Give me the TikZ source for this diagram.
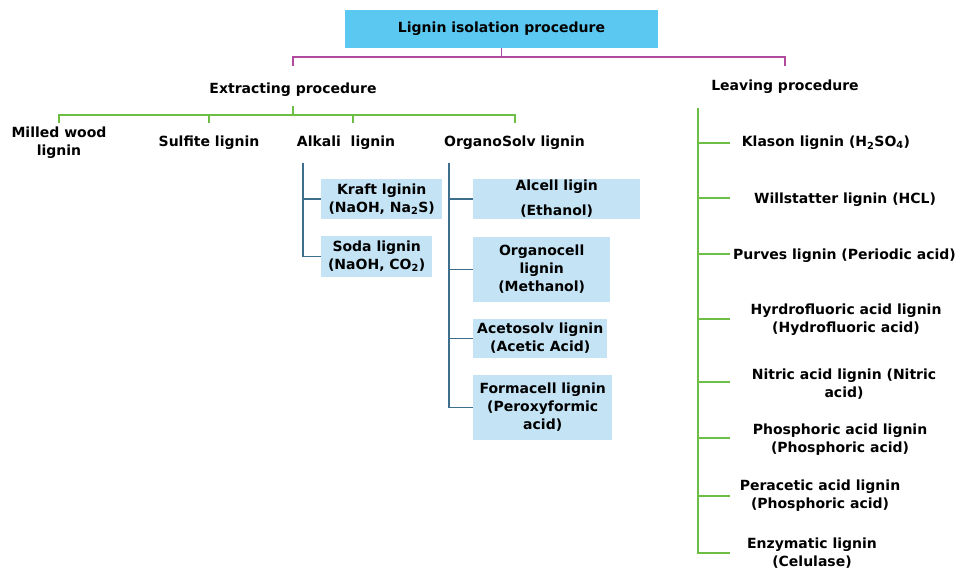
\documentclass[tikz,border=0pt]{standalone}
\usepackage{fontspec}
\setmainfont{DejaVu Sans}
\definecolor{titlecyan}{HTML}{5BC8F2}
\definecolor{leafblue}{HTML}{C4E4F5}
\definecolor{lnmag}{HTML}{B04A9E}
\definecolor{lngreen}{HTML}{6DBE45}
\definecolor{lnblue}{HTML}{3D6E8E}
\begin{document}
\begin{tikzpicture}[x=1pt, y=-1pt,
  txt/.style={inner sep=0, align=center, font=\fontsize{14}{18}\selectfont\bfseries},
  title/.style={txt, fill=titlecyan, minimum width=313, minimum height=38},
  leaf/.style={txt, fill=leafblue, anchor=west},
  mag/.style={lnmag, line width=1.4pt},
  grn/.style={lngreen, line width=1.4pt},
  blu/.style={lnblue, line width=1.4pt}]
\useasboundingbox (0,0) rectangle (960,569);

% top
\node[title] (top) at (501.5,29){Lignin isolation procedure};
\coordinate (mj) at (501.5,57);
\coordinate (extrt) at (293,66);
\coordinate (leavt) at (785,66);
\draw[mag](top.south) -- (mj);
\draw[mag](mj) -| (extrt);
\draw[mag](mj) -| (leavt);

% extracting procedure
\node[txt] (extr) at (293,90){Extracting procedure};
\node[txt] (milled) at (59,143){Milled wood\\lignin};
\node[txt] (sulf) at (209,143){Sulfite lignin};
\node[txt] (alk) at (346,143){Alkali\ \ lignin};
\node[txt] (orgs) at (514.5,143){OrganoSolv lignin};
\coordinate (gj) at (293,115);
\coordinate (g1) at (59,123);
\coordinate (g2) at (209,123);
\coordinate (g3) at (353,123);
\coordinate (g4) at (515,123);
\draw[grn](293,106) -- (gj);
\draw[grn](gj) -| (g1);
\draw[grn](gj) -| (g2);
\draw[grn](gj) -| (g3);
\draw[grn](gj) -| (g4);

% alkali
\node[leaf, minimum width=121, minimum height=40] (kraft) at (321,199){Kraft lginin\\(NaOH, Na\textsubscript{2}S)};
\node[leaf, minimum width=111, minimum height=40] (soda) at (321,256.5){Soda lignin\\(NaOH, CO\textsubscript{2})};
\coordinate (alkt) at (303,163);
\draw[blu](alkt) |- (kraft.west);
\draw[blu](alkt) |- (soda.west);

% organosolv
\node[leaf, minimum width=167, minimum height=40] (alcell) at (473,199){Alcell ligin\\[7pt](Ethanol)};
\node[leaf, minimum width=137, minimum height=65] (orgc) at (473,269.5){Organocell\\lignin\\(Methanol)};
\node[leaf, minimum width=134, minimum height=39] (aceto) at (473,338.5){Acetosolv lignin\\(Acetic Acid)};
\node[leaf, minimum width=139, minimum height=65] (forma) at (473,407.5){Formacell lignin\\(Peroxyformic\\acid)};
\coordinate (orgt) at (449,163);
\draw[blu](orgt) |- (alcell.west);
\draw[blu](orgt) |- (orgc.west);
\draw[blu](orgt) |- (aceto.west);
\draw[blu](orgt) |- (forma.west);

% leaving procedure
\node[txt] (leav) at (785,87){Leaving procedure};
\node[txt] (klas) at (826,143){Klason lignin (H\textsubscript{2}SO\textsubscript{4})};
\node[txt] (will) at (845,200){Willstatter lignin (HCL)};
\node[txt] (purv) at (844.5,256){Purves lignin (Periodic acid)};
\node[txt] (hydr) at (846,320){Hyrdrofluoric acid lignin\\(Hydrofluoric acid)};
\node[txt] (nitr) at (844,384){Nitric acid lignin (Nitric\\acid)};
\node[txt] (phos) at (840,440){Phosphoric acid lignin\\(Phosphoric acid)};
\node[txt] (pera) at (820,496){Peracetic acid lignin\\(Phosphoric acid)};
\node[txt] (enzy) at (812,553){Enzymatic lignin\\(Celulase)};
\coordinate (lvt) at (698,108);
\coordinate (t1) at (730,143);
\coordinate (t2) at (730,198);
\coordinate (t3) at (730,254);
\coordinate (t4) at (730,319);
\coordinate (t5) at (730,382);
\coordinate (t6) at (730,438);
\coordinate (t7) at (730,496);
\coordinate (t8) at (730,553);
\draw[grn](lvt) |- (t1);
\draw[grn](lvt) |- (t2);
\draw[grn](lvt) |- (t3);
\draw[grn](lvt) |- (t4);
\draw[grn](lvt) |- (t5);
\draw[grn](lvt) |- (t6);
\draw[grn](lvt) |- (t7);
\draw[grn](lvt) |- (t8);

\end{tikzpicture}
\end{document}
